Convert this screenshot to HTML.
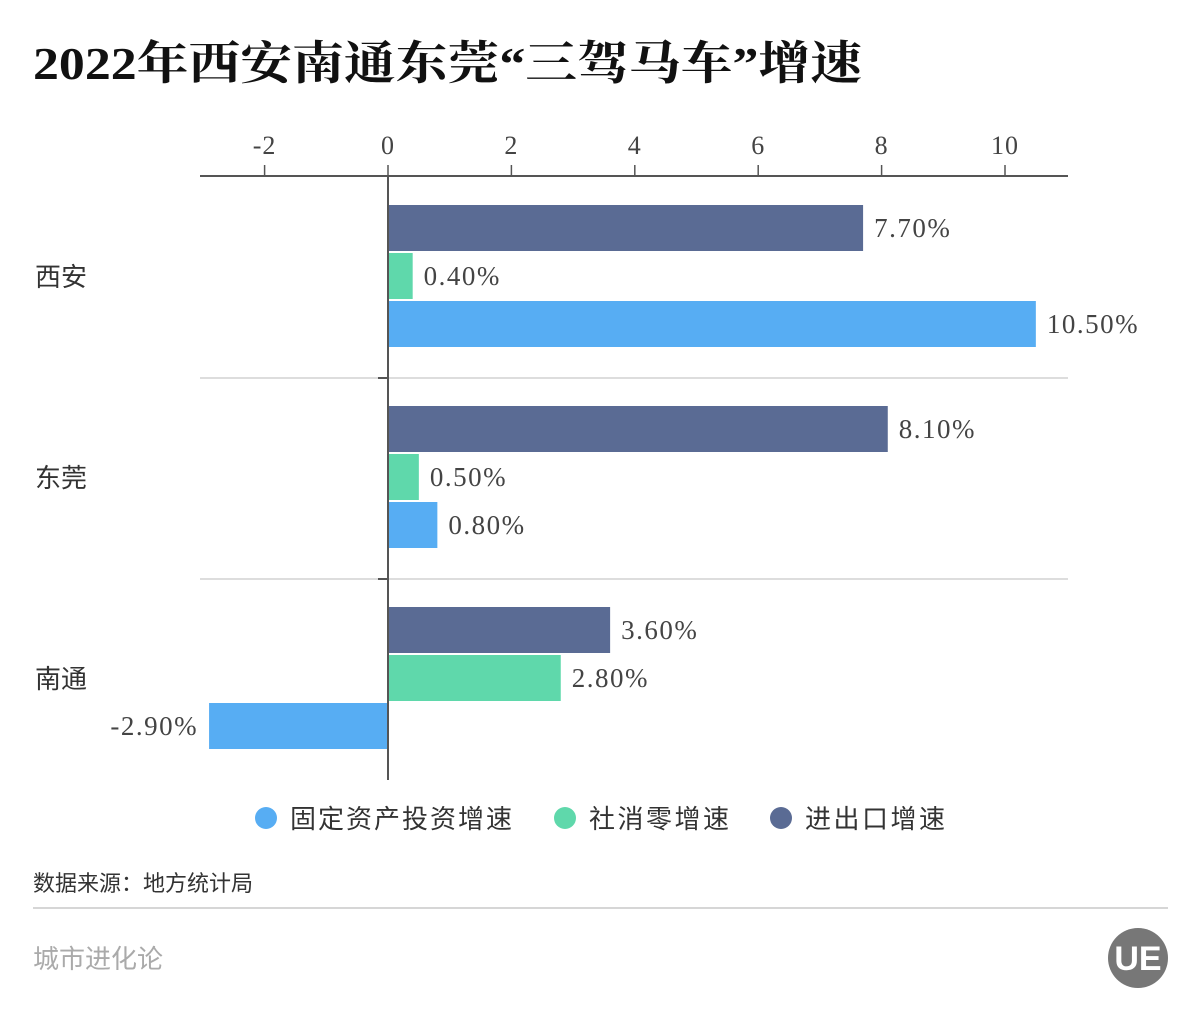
<!DOCTYPE html>
<html><head><meta charset="utf-8"><style>
body{margin:0;background:#fff;}
svg{display:block}
.s{font-family:"Liberation Sans","Noto Sans CJK SC",sans-serif}
.r{font-family:"Liberation Serif","Noto Serif CJK SC",serif}
</style></head><body>
<svg id="c" width="1200" height="1020" viewBox="0 0 1200 1020">
<rect width="1200" height="1020" fill="#fff"/>
<text x="33" y="79" class="r" font-size="46" font-weight="bold" fill="#111" textLength="829" lengthAdjust="spacingAndGlyphs">2022年西安南通东莞“三驾马车”增速</text>
<g id="grid"></g><g id="bars"></g><g id="axis"></g>
<g>
<circle cx="266" cy="818" r="11" fill="#57adf3"/>
<text x="290" y="828" class="s" font-size="26" fill="#333" textLength="222">固定资产投资增速</text>
<circle cx="565" cy="818" r="11" fill="#5fd8ab"/>
<text x="589" y="828" class="s" font-size="26" fill="#333" textLength="140">社消零增速</text>
<circle cx="781" cy="818" r="11" fill="#5a6b94"/>
<text x="805" y="828" class="s" font-size="26" fill="#333" textLength="140">进出口增速</text>
</g>
<text x="33" y="891" class="s" font-size="22" fill="#333">数据来源：地方统计局</text>
<line x1="33" y1="908" x2="1168" y2="908" stroke="#d6d6d6" stroke-width="2"/>
<text x="33" y="968" class="s" font-size="26" fill="#aaa">城市进化论</text>
<g>
<circle cx="1138" cy="958" r="30" fill="#777"/>
<text x="1138" y="970" text-anchor="middle" class="s" font-size="34" font-weight="bold" fill="#fff">UE</text>
</g>
</svg>
<script>
const categories=["西安","东莞","南通"];
const seriesNames=["进出口增速","社消零增速","固定资产投资增速"];
const tradeValues=[7.7,8.1,3.6];
const retailValues=[0.4,0.5,2.8];
const fixedValues=[10.5,0.8,-2.9];
const ticks=[-2,0,2,4,6,8,10];
const NS="http://www.w3.org/2000/svg";
const colors=["#5a6b94","#5fd8ab","#57adf3"];
const x=v=>388+v*61.7;
const top0=176,band=201;
function mk(t,a,p){const e=document.createElementNS(NS,t);for(const k in a)e.setAttribute(k,a[k]);p.appendChild(e);return e;}
const axis=document.getElementById('axis'),bars=document.getElementById('bars'),grid=document.getElementById('grid');
let e=mk('line',{x1:200,y1:top0,x2:1068,y2:top0,stroke:'#555','stroke-width':2},axis);


ticks.forEach(t=>{
 let l=mk('line',{x1:x(t),y1:top0-11,x2:x(t),y2:top0,stroke:'#555','stroke-width':1.5},axis);
 
 
 let tx=mk('text',{x:x(t),y:154,'text-anchor':'middle','font-size':26,fill:'#444',class:'r','letter-spacing':1},axis);
 tx.textContent=t;
 
 
});
e=mk('line',{x1:388,y1:top0,x2:388,y2:780,stroke:'#555','stroke-width':2},axis);


const all=[tradeValues,retailValues,fixedValues];
categories.forEach((c,i)=>{
 const y0=top0+i*band;
 if(i>0){let g=mk('line',{x1:200,y1:y0+1,x2:1068,y2:y0+1,stroke:'#ddd','stroke-width':2},grid);
  
  
  let tk=mk('line',{x1:378,y1:y0+1,x2:388,y2:y0+1,stroke:'#555','stroke-width':2},axis);
  
  }
 let ct=mk('text',{x:35,y:y0+110,'font-size':26,fill:'#333',class:'s'},axis);
 ct.textContent=c;
 
 
 all.forEach((arr,s)=>{
  const v=arr[i],by=y0+29+s*48;
  const x1=Math.min(x(0),x(v)),w=Math.abs(x(v)-x(0));
  let r=mk('rect',{x:x1,y:by,width:w,height:46,fill:colors[s]},bars);
  
  
  let lt=mk('text',{x:v>=0?x(v)+11:x(v)-11,y:by+32,'text-anchor':v>=0?'start':'end','font-size':27,fill:'#444',class:'r','letter-spacing':1.5},bars);
  lt.textContent=v.toFixed(2)+'%';
  
  
 });
});
</script>
</body></html>
